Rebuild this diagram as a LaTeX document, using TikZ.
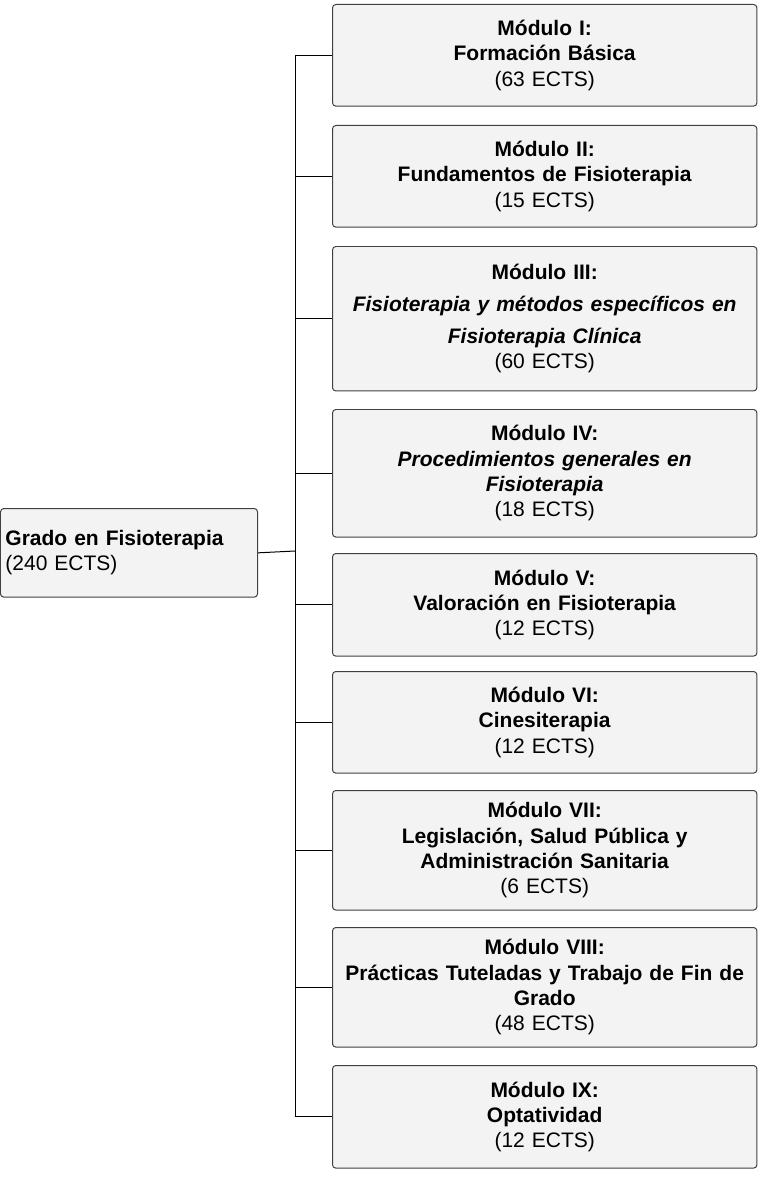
\documentclass[tikz,border=0pt]{standalone}
\usepackage{fontspec}
\setmainfont{Liberation Sans}
\usetikzlibrary{positioning}
\definecolor{boxfill}{HTML}{F3F3F3}
\definecolor{boxline}{HTML}{404040}
\tikzset{
  box/.style={draw=boxline, fill=boxfill, rounded corners=2.5pt, line width=0.75pt,
    anchor=north west, inner sep=0pt, align=center,
    font=\fontsize{15.8}{19}\selectfont},
  modbox/.style={box, minimum width=319.5pt, text width=315pt},
  link/.style={draw=black, line width=0.75pt}
}
\begin{document}
\begin{tikzpicture}[x=0.02646cm, y=-0.02646cm]
\useasboundingbox (0,0) rectangle (772,1184);
% root
\node[box, minimum width=193.5pt, minimum height=66.75pt, text width=186pt, align=left] (root) at (0,508)
  {\textbf{Grado en Fisioterapia}\\(240 ECTS)};
% modules
\node[modbox, minimum height=76.5pt] (m1) at (332,4)
  {\textbf{Módulo I:}\\\textbf{Formación Básica}\\(63 ECTS)};
\node[modbox, minimum height=76.5pt] (m2) at (332,125)
  {\textbf{Módulo II:}\\\textbf{Fundamentos de Fisioterapia}\\(15 ECTS)};
\node[modbox, minimum height=108.75pt] (m3) at (332,246)
  {\textbf{Módulo III:}\\[5pt]\textbf{\itshape Fisioterapia y métodos específicos en}\\[5pt]\textbf{\itshape Fisioterapia Clínica}\\(60 ECTS)};
\node[modbox, minimum height=96pt] (m4) at (332,409)
  {\textbf{Módulo IV:}\\\textbf{\itshape Procedimientos generales en}\\\textbf{\itshape Fisioterapia}\\(18 ECTS)};
\node[modbox, minimum height=77.25pt] (m5) at (332,553)
  {\textbf{Módulo V:}\\\textbf{Valoración en Fisioterapia}\\(12 ECTS)};
\node[modbox, minimum height=76.5pt] (m6) at (332,671)
  {\textbf{Módulo VI:}\\\textbf{Cinesiterapia}\\(12 ECTS)};
\node[modbox, minimum height=90pt] (m7) at (332,790)
  {\textbf{Módulo VII:}\\\textbf{Legislación, Salud Pública y}\\\textbf{Administración Sanitaria}\\(6 ECTS)};
\node[modbox, minimum height=90pt] (m8) at (332,927)
  {\textbf{Módulo VIII:}\\\textbf{Prácticas Tuteladas y Trabajo de Fin de}\\\textbf{Grado}\\(48 ECTS)};
\node[modbox, minimum height=77.25pt] (m9) at (332,1065)
  {\textbf{Módulo IX:}\\\textbf{Optatividad}\\(12 ECTS)};
% connectors
\coordinate (trunk) at (295,551);
\draw[link] (root.east) -- (trunk);
\draw[link] (trunk |- m1.west) -- (trunk |- m9.west);
\foreach \m in {m1,m2,m3,m4,m5,m6,m7,m8,m9}
  \draw[link] (trunk |- \m.west) -- (\m.west);
\end{tikzpicture}
\end{document}
